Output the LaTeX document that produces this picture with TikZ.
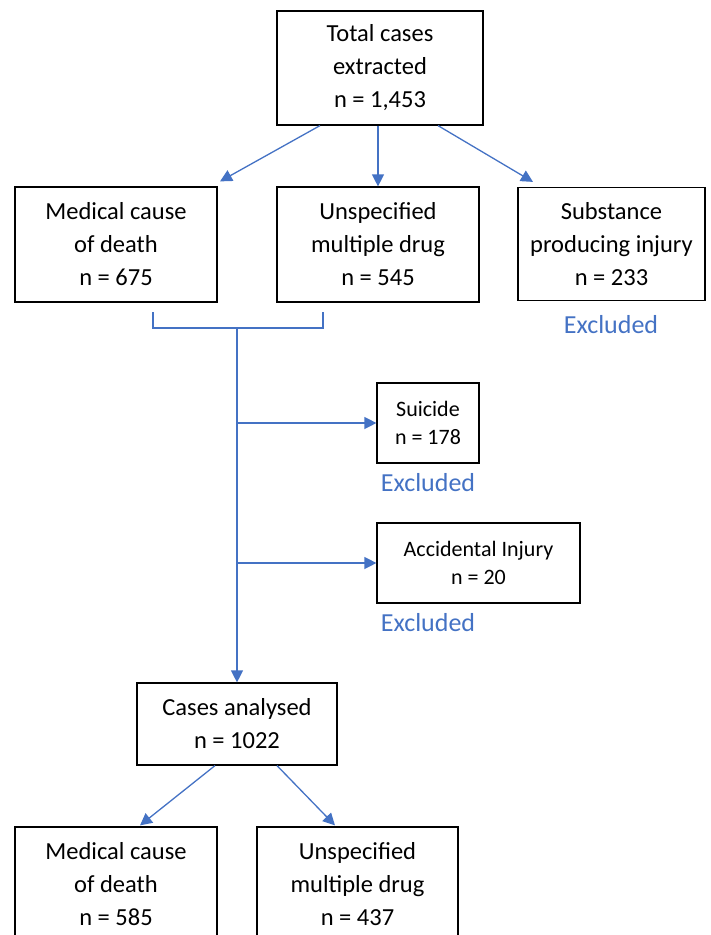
\documentclass[tikz,border=0pt]{standalone}
\usepackage{fontspec}
\setmainfont{Carlito}
\usetikzlibrary{arrows.meta}
\definecolor{linkblue}{HTML}{4472C4}

\begin{document}
\begin{tikzpicture}[x=1pt, y=-1pt,
  box/.style={draw, line width=1.2pt, align=center, inner sep=0pt, font=\fontsize{24.5}{33}\selectfont},
  smallbox/.style={box, font=\fontsize{22}{28}\selectfont},
  link/.style={draw=linkblue, line width=1.3pt},
  arr/.style={link, -{Triangle[length=12pt, width=12pt]}},
  excl/.style={text=linkblue, font=\fontsize{26}{30}\selectfont}]
\useasboundingbox (0,0) rectangle (710,935);
\clip (0,0) rectangle (710,935);

% first split
\node[box, minimum width=206pt, minimum height=114pt] (total) at (380,68) {Total cases\\extracted\\n = 1,453};
\node[box, minimum width=202pt, minimum height=115pt] (med) at (116,244.5) {Medical cause\\of death\\n = 675};
\node[box, minimum width=202pt, minimum height=115pt] (unspec) at (378,244.5) {Unspecified\\multiple drug\\n = 545};
\node[box, minimum width=187pt, minimum height=113pt] (subst) at (611.5,244) {Substance\\producing injury\\n = 233};
\node[excl] (exsubst) at (611,325) {Excluded};

\draw[arr] ([xshift=-60pt]total.south) -- ([xshift=104pt, yshift=5pt]med.north);
\draw[arr] (total.south -| unspec.north) -- (unspec.north);
\draw[arr] ([xshift=58pt]total.south) -- ([xshift=-78.5pt, yshift=5pt]subst.north);

% exclusions
\node[smallbox, minimum width=102pt, minimum height=80pt] (suicide) at (428,423) {Suicide\\n = 178};
\node[excl] (exsuicide) at (428,483) {Excluded};
\node[smallbox, minimum width=203pt, minimum height=80pt] (accid) at (478.5,563) {Accidental Injury\\n = 20};
\node[excl] (exaccid) at (428,623) {Excluded};

\node[box, minimum width=200pt, minimum height=82pt] (cases) at (237,724) {Cases analysed\\n = 1022};

\coordinate (bl) at (153,312);
\coordinate (br) at (323,312);
\coordinate (join) at (237,328);
\draw[link] (bl) |- (join) -| (br);
\draw[arr] (join) -- (join |- cases.north);
\draw[arr] (join |- suicide.west) -- (suicide.west);
\draw[arr] (join |- accid.west) -- (accid.west);

% final split
\node[box, minimum width=202pt, minimum height=115pt] (bmed) at (116,884.5) {Medical cause\\of death\\n = 585};
\node[box, minimum width=201pt, minimum height=115pt] (bunspec) at (357.5,884.5) {Unspecified\\multiple drug\\n = 437};
\draw[arr] ([xshift=-22pt]cases.south) -- ([xshift=24pt, yshift=1pt]bmed.north);
\draw[arr] ([xshift=40pt]cases.south) -- ([xshift=-22.5pt, yshift=1pt]bunspec.north);
\end{tikzpicture}
\end{document}
